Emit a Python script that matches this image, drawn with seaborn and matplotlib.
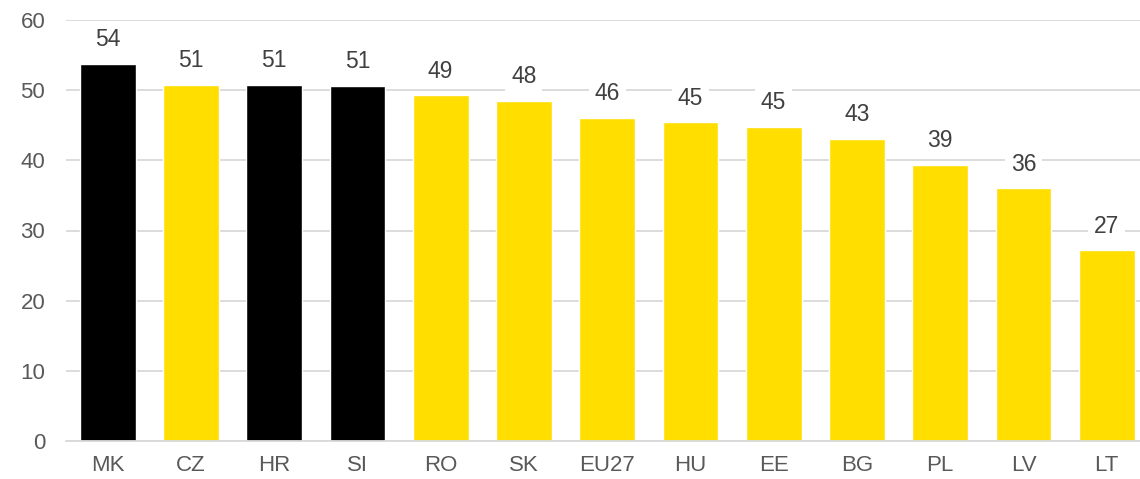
import matplotlib
matplotlib.use("Agg")
import matplotlib.pyplot as plt
import seaborn as sns
import pandas as pd

countries = ["MK", "CZ", "HR", "SI", "RO", "SK", "EU27", "HU", "EE", "BG", "PL", "LV", "LT"]
values = [53.8, 50.8, 50.8, 50.6, 49.3, 48.5, 46.1, 45.4, 44.8, 43.1, 39.4, 36.0, 27.2]
labels = ["54", "51", "51", "51", "49", "48", "46", "45", "45", "43", "39", "36", "27"]
highlight = ["MK", "HR", "SI"]

sns.set_theme(style="white")
plt.rcParams['font.family'] = ['Liberation Sans', 'DejaVu Sans']

df = pd.DataFrame({"country": countries, "value": values})
palette = {c: ("#000000" if c in highlight else "#FFDE00") for c in countries}

fig = plt.figure(figsize=(11.4, 4.79), dpi=100)
ax = fig.add_axes([66/1140, 1 - 441/479, 1 - 66/1140, (441 - 20)/479])
sns.barplot(data=df, x="country", y="value", hue="country", palette=palette,
            legend=False, width=0.67, saturation=1, ax=ax, zorder=2)

ax.set_ylim(0, 60)
ax.set_yticks(range(0, 61, 10))
ax.set_xlim(-0.5, 12.4)
ax.yaxis.grid(True, color="#D9D9D9", linewidth=1.3, zorder=0)
ax.set_axisbelow(True)
for s in ["top", "right", "left"]:
    ax.spines[s].set_visible(False)
ax.spines["bottom"].set_color("#D9D9D9")
ax.spines["bottom"].set_linewidth(1.3)
ax.set_xlabel("")
ax.set_ylabel("")
ax.tick_params(axis="both", length=0, labelsize=16, labelcolor="#595959")
ax.tick_params(axis="y", pad=15)
ax.tick_params(axis="x", pad=10)

for i, (v, lab) in enumerate(zip(values, labels)):
    ax.annotate(lab, (i, v), xytext=(0, 9), textcoords="offset points",
                ha="center", va="bottom", fontsize=16.5, color="#404040",
                bbox=dict(boxstyle="square,pad=0.25", fc="white", ec="none"), zorder=3)

fig.savefig("out.png", dpi=100)
